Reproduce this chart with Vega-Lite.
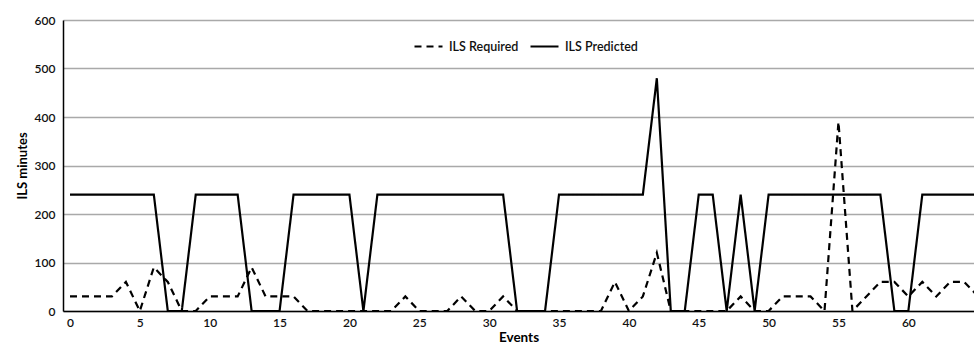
{
  "$schema": "https://vega.github.io/schema/vega-lite/v6.json",
  "autosize": {"type": "none"},
  "padding": {"left": 63, "top": 20, "right": 0, "bottom": 41},
  "width": 911,
  "height": 291,
  "background": "white",
  "config": {
    "view": {"stroke": null},
    "font": "Lato",
    "axis": {"labelFont": "Lato", "titleFont": "Lato", "labelColor": "#111", "titleColor": "#000"}
  },
  "data": {
    "values": [
      {"event": 0, "required": 30, "predicted": 240},
      {"event": 1, "required": 30, "predicted": 240},
      {"event": 2, "required": 30, "predicted": 240},
      {"event": 3, "required": 30, "predicted": 240},
      {"event": 4, "required": 60, "predicted": 240},
      {"event": 5, "required": 0, "predicted": 240},
      {"event": 6, "required": 90, "predicted": 240},
      {"event": 7, "required": 60, "predicted": 0},
      {"event": 8, "required": 0, "predicted": 0},
      {"event": 9, "required": 0, "predicted": 240},
      {"event": 10, "required": 30, "predicted": 240},
      {"event": 11, "required": 30, "predicted": 240},
      {"event": 12, "required": 30, "predicted": 240},
      {"event": 13, "required": 90, "predicted": 0},
      {"event": 14, "required": 30, "predicted": 0},
      {"event": 15, "required": 30, "predicted": 0},
      {"event": 16, "required": 30, "predicted": 240},
      {"event": 17, "required": 0, "predicted": 240},
      {"event": 18, "required": 0, "predicted": 240},
      {"event": 19, "required": 0, "predicted": 240},
      {"event": 20, "required": 0, "predicted": 240},
      {"event": 21, "required": 0, "predicted": 0},
      {"event": 22, "required": 0, "predicted": 240},
      {"event": 23, "required": 0, "predicted": 240},
      {"event": 24, "required": 30, "predicted": 240},
      {"event": 25, "required": 0, "predicted": 240},
      {"event": 26, "required": 0, "predicted": 240},
      {"event": 27, "required": 0, "predicted": 240},
      {"event": 28, "required": 30, "predicted": 240},
      {"event": 29, "required": 0, "predicted": 240},
      {"event": 30, "required": 0, "predicted": 240},
      {"event": 31, "required": 30, "predicted": 240},
      {"event": 32, "required": 0, "predicted": 0},
      {"event": 33, "required": 0, "predicted": 0},
      {"event": 34, "required": 0, "predicted": 0},
      {"event": 35, "required": 0, "predicted": 240},
      {"event": 36, "required": 0, "predicted": 240},
      {"event": 37, "required": 0, "predicted": 240},
      {"event": 38, "required": 0, "predicted": 240},
      {"event": 39, "required": 60, "predicted": 240},
      {"event": 40, "required": 0, "predicted": 240},
      {"event": 41, "required": 30, "predicted": 240},
      {"event": 42, "required": 120, "predicted": 480},
      {"event": 43, "required": 0, "predicted": 0},
      {"event": 44, "required": 0, "predicted": 0},
      {"event": 45, "required": 0, "predicted": 240},
      {"event": 46, "required": 0, "predicted": 240},
      {"event": 47, "required": 0, "predicted": 0},
      {"event": 48, "required": 30, "predicted": 240},
      {"event": 49, "required": 0, "predicted": 0},
      {"event": 50, "required": 0, "predicted": 240},
      {"event": 51, "required": 30, "predicted": 240},
      {"event": 52, "required": 30, "predicted": 240},
      {"event": 53, "required": 30, "predicted": 240},
      {"event": 54, "required": 0, "predicted": 240},
      {"event": 55, "required": 390, "predicted": 240},
      {"event": 56, "required": 0, "predicted": 240},
      {"event": 57, "required": 30, "predicted": 240},
      {"event": 58, "required": 60, "predicted": 240},
      {"event": 59, "required": 60, "predicted": 0},
      {"event": 60, "required": 30, "predicted": 0},
      {"event": 61, "required": 60, "predicted": 240},
      {"event": 62, "required": 30, "predicted": 240},
      {"event": 63, "required": 60, "predicted": 240},
      {"event": 64, "required": 60, "predicted": 240},
      {"event": 65, "required": 30, "predicted": 240}
    ]
  },
  "transform": [
    {"fold": ["required", "predicted"], "as": ["key", "minutes"]},
    {"lookup": "key", "from": {"data": {"values": [{"key": "required", "series": "ILS Required"}, {"key": "predicted", "series": "ILS Predicted"}]}, "key": "key", "fields": ["series"]}}
  ],
  "mark": {"type": "line", "color": "black", "strokeWidth": 2.2, "clip": true},
  "encoding": {
    "x": {
      "field": "event", "type": "quantitative",
      "scale": {"domain": [-0.5, 64.7], "nice": false, "zero": false},
      "axis": {
        "values": [0, 5, 10, 15, 20, 25, 30, 35, 40, 45, 50, 55, 60],
        "grid": false, "ticks": false, "domainColor": "black", "domainWidth": 1.5,
        "labelFontSize": 12, "labelFontWeight": 600, "labelPadding": 6, "labelBound": false, "labelFlush": false,
        "title": "Events", "titleFontSize": 13.5, "titleFontWeight": "bold", "titlePadding": 2
      }
    },
    "y": {
      "field": "minutes", "type": "quantitative",
      "scale": {"domain": [0, 600], "nice": false},
      "axis": {
        "values": [0, 100, 200, 300, 400, 500, 600],
        "grid": true, "gridColor": "#a9a9a9", "gridWidth": 1.5,
        "ticks": false, "domainColor": "black", "domainWidth": 1.5,
        "labelFontSize": 12, "labelFontWeight": 600, "labelPadding": 8,
        "title": "ILS minutes", "titleFontSize": 13, "titleFontWeight": "bold", "titlePadding": 5
      }
    },
    "strokeDash": {
      "field": "series", "type": "nominal",
      "scale": {"domain": ["ILS Required", "ILS Predicted"], "range": [[7, 5], [1, 0]]},
      "legend": {
        "title": null, "orient": "none", "legendX": 350, "legendY": 11,
        "direction": "horizontal", "symbolType": "stroke", "symbolStrokeColor": "black",
        "symbolStrokeWidth": 2.2, "symbolSize": 784, "labelFontSize": 12.5, "labelFontWeight": 600,
        "labelColor": "#111", "columnPadding": 7, "labelOffset": 5
      }
    },
    "detail": {"field": "series"}
  }
}
